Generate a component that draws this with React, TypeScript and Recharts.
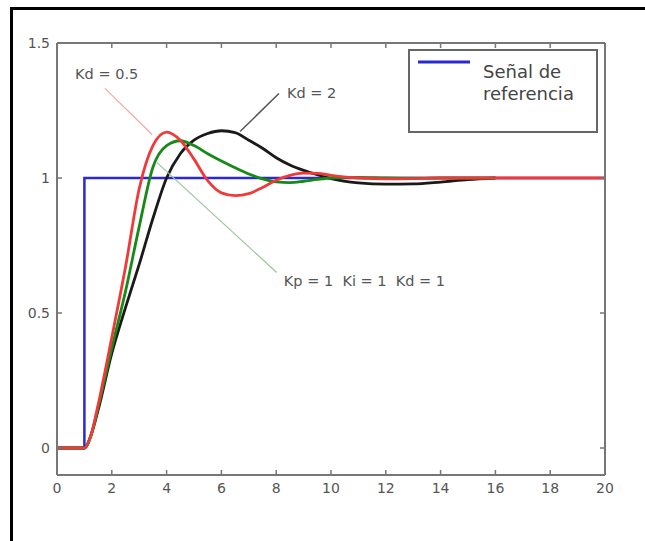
import { LineChart, Line, XAxis, YAxis, ReferenceLine, ReferenceDot, Legend } from 'recharts';

// tiempo (s)
const time = [0, 0.5, 1, 1.25, 1.5, 2, 2.5, 3, 3.5, 4, 4.5, 5, 5.5, 6, 6.5, 7, 7.5, 8, 8.5, 9, 9.5, 10, 11, 12, 13, 14, 15, 16, 17, 18, 19, 20];
// Kd = 0.5
const redVals = [0, 0, 0, 0.05, 0.16, 0.41, 0.67, 0.96, 1.12, 1.17, 1.14, 1.07, 0.99, 0.945, 0.935, 0.942, 0.965, 0.992, 1.01, 1.018, 1.017, 1.01, 1.0, 0.997, 0.998, 1.0, 1.0, 1.0, 1.0, 1.0, 1.0, 1.0];
// Kp = 1 Ki = 1 Kd = 1
const greenVals = [0, 0, 0, 0.05, 0.15, 0.37, 0.58, 0.82, 1.04, 1.12, 1.138, 1.12, 1.09, 1.063, 1.038, 1.015, 0.997, 0.986, 0.983, 0.988, 0.995, 1.0, 1.002, 1.0, 0.999, 1.0, 1.0, 1.0, null, null, null, null];
// Kd = 2
const blackVals = [0, 0, 0, 0.05, 0.14, 0.35, 0.52, 0.68, 0.85, 1.0, 1.09, 1.14, 1.165, 1.175, 1.168, 1.14, 1.11, 1.075, 1.048, 1.028, 1.012, 0.998, 0.982, 0.977, 0.978, 0.985, 0.994, 1.0, null, null, null, null];

// señal de referencia (escalón)
const refTime = [0, 1, 1, 20];
const refVals = [0, 0, 1, 1];

const xTicks = [0, 2, 4, 6, 8, 10, 12, 14, 16, 18, 20];
const yTicks = [0, 0.5, 1, 1.5];

const data = time.map((t, i) => ({ t, red: redVals[i], green: greenVals[i], black: blackVals[i] }));
const refData = refTime.map((t, i) => ({ t, ref: refVals[i] }));

const FONT = 'DejaVu Sans';
const AXIS = '#777';

const BottomTick = (p: any) => (
  <g>
    <line x1={p.x} y1={p.y} x2={p.x} y2={p.y - 5} stroke={AXIS} strokeWidth={1.5} />
    <text x={p.x} y={p.y + 18} textAnchor="middle" fontSize={14} fill="#555" fontFamily={FONT}>{p.payload.value}</text>
  </g>
);
const LeftTick = (p: any) => (
  <g>
    <line x1={p.x} y1={p.y} x2={p.x + 5} y2={p.y} stroke={AXIS} strokeWidth={1.5} />
    <text x={p.x - 7} y={p.y + 5} textAnchor="end" fontSize={14} fill="#555" fontFamily={FONT}>{p.payload.value}</text>
  </g>
);
const TopTick = (p: any) => <line x1={p.x} y1={p.y} x2={p.x} y2={p.y + 5} stroke={AXIS} strokeWidth={1.5} />;
const RightTick = (p: any) => <line x1={p.x} y1={p.y} x2={p.x - 5} y2={p.y} stroke={AXIS} strokeWidth={1.5} />;

const note = (text: string) => (p: any) => (
  <text x={p.cx} y={p.cy + 5} fontSize={14.5} fill="#555" fontFamily={FONT}>{text}</text>
);

const LegendBox = () => (
  <div style={{ boxSizing: 'border-box', width: 190, height: 84, border: '2px solid #666', background: '#fff', position: 'relative', fontFamily: FONT }}>
    <svg style={{ position: 'absolute', left: 8, top: 9 }} width={54} height={4}>
      <line x1={0} y1={2} x2={52} y2={2} stroke="#2a2ad0" strokeWidth={3} />
    </svg>
    <div style={{ position: 'absolute', left: 73, top: 10, fontSize: 18, lineHeight: '22px', color: '#444', whiteSpace: 'nowrap' }}>
      Señal de<br />referencia
    </div>
  </div>
);

export default function App() {
  return (
    <div style={{ position: 'absolute', left: 0, top: 0, width: 645, height: 541, background: '#fff', overflow: 'hidden' }}>
      <div style={{ position: 'absolute', left: 10, top: 7, right: 0, bottom: 0, borderLeft: '3px solid #000', borderTop: '3px solid #000' }} />
      <div style={{ position: 'absolute', left: 0, top: 0 }}>
        <LineChart width={645} height={541} data={data} margin={{ top: 42, right: 39, bottom: 36, left: 0 }}>
          <XAxis dataKey="t" type="number" domain={[0, 20]} ticks={xTicks} interval={0} allowDataOverflow
            height={30} tickSize={0} tickMargin={0} tick={BottomTick} tickLine={false} stroke={AXIS} strokeWidth={2} />
          <XAxis xAxisId="top" orientation="top" dataKey="t" type="number" domain={[0, 20]} ticks={xTicks} interval={0} allowDataOverflow
            height={1} tickSize={0} tickMargin={0} tick={TopTick} tickLine={false} stroke={AXIS} strokeWidth={2} />
          <YAxis type="number" domain={[-0.1, 1.5]} ticks={yTicks} interval={0} allowDataOverflow
            width={57} tickSize={0} tickMargin={0} tick={LeftTick} tickLine={false} stroke={AXIS} strokeWidth={2} />
          <YAxis yAxisId="right" orientation="right" type="number" domain={[-0.1, 1.5]} ticks={yTicks} interval={0} allowDataOverflow
            width={1} tickSize={0} tickMargin={0} tick={RightTick} tickLine={false} stroke={AXIS} strokeWidth={2} />

          <Line data={refData} dataKey="ref" type="linear" stroke="#2a2ad0" strokeWidth={2.5} dot={false} isAnimationActive={false} />
          <Line dataKey="black" type="monotone" stroke="#1a1a1a" strokeWidth={2.8} dot={false} isAnimationActive={false} />
          <Line dataKey="green" type="monotone" stroke="#168a16" strokeWidth={2.8} dot={false} isAnimationActive={false} />
          <Line dataKey="red" type="monotone" stroke="#f03a3a" strokeWidth={2.8} dot={false} isAnimationActive={false} />
          {/* línea invisible que liga los ejes superior y derecho */}
          <Line xAxisId="top" yAxisId="right" dataKey="red" stroke="none" dot={false} legendType="none" isAnimationActive={false} />

          <ReferenceLine segment={[{ x: 1.75, y: 1.332 }, { x: 3.47, y: 1.161 }]} stroke="#f5a5a5" strokeWidth={1.2} />
          <ReferenceLine segment={[{ x: 8.1, y: 1.313 }, { x: 6.68, y: 1.172 }]} stroke="#555" strokeWidth={1.5} />
          <ReferenceLine segment={[{ x: 3.64, y: 1.058 }, { x: 8.02, y: 0.65 }]} stroke="#9cc49c" strokeWidth={1.2} />

          <ReferenceDot x={0.66} y={1.384} r={0} shape={note('Kd = 0.5')} />
          <ReferenceDot x={8.39} y={1.313} r={0} shape={note('Kd = 2')} />
          <ReferenceDot x={8.28} y={0.619} r={0} shape={note('Kp = 1\u00a0\u00a0Ki = 1\u00a0\u00a0Kd = 1')} />

          <Legend layout="horizontal" verticalAlign="middle" align="center" content={LegendBox}
            wrapperStyle={{ left: 408, top: 49, width: 190, height: 84 }} />
        </LineChart>
      </div>
    </div>
  );
}
